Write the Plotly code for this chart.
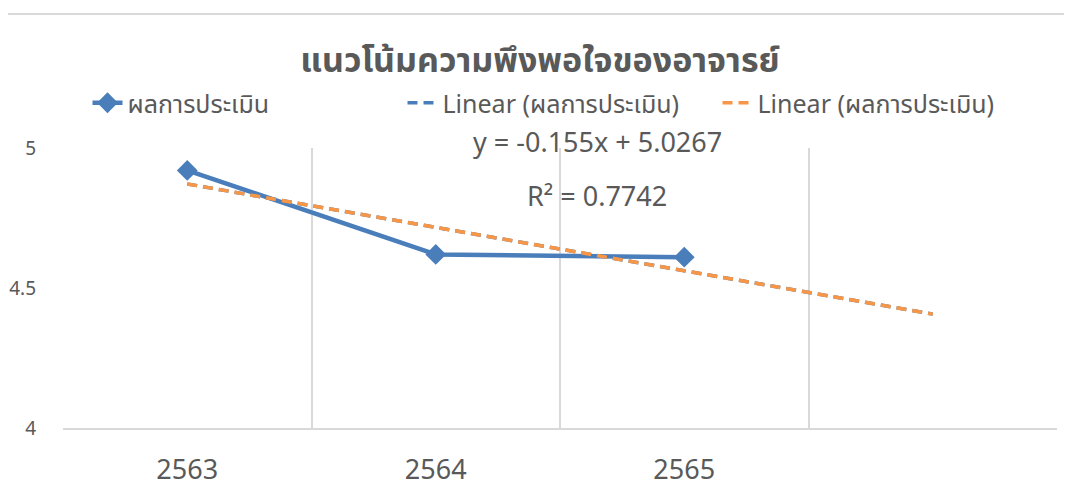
import plotly.graph_objects as go

years = ["2563", "2564", "2565"]
x_pos = [1, 2, 3]
scores = [4.92, 4.62, 4.61]
trend_slope = -0.155
trend_intercept = 5.0267
trend_x = [1, 2, 3, 4]
trend_y = [trend_slope * x + trend_intercept for x in trend_x]

FONT = "Noto Sans Thai, Leelawadee UI, Tahoma, Noto Sans, sans-serif"
GRAY = "#595959"
BLUE = "#4a7ebb"
ORANGE = "#f79646"

# the page has an 8px body margin, so the figure is drawn 8px smaller
OFF = 8
W, H = 1072 - OFF, 489 - OFF
PLOT_LEFT, PLOT_RIGHT = 63 - OFF, 1057 - OFF
PLOT_TOP, PLOT_BOTTOM = 148 - OFF, 428 - OFF
PH = PLOT_BOTTOM - PLOT_TOP
PW = PLOT_RIGHT - PLOT_LEFT


def py(screen_y):
    return (PLOT_BOTTOM - (screen_y - OFF)) / PH


fig = go.Figure()
fig.add_trace(go.Scatter(
    x=x_pos, y=scores, mode="lines+markers", name="ผลการประเมิน",
    line=dict(color=BLUE, width=4.5),
    marker=dict(symbol="diamond", size=16, color=BLUE),
))
fig.add_trace(go.Scatter(
    x=trend_x, y=trend_y, mode="lines", name="Linear (ผลการประเมิน)",
    line=dict(color=BLUE, width=3.5, dash="10px,6px"),
))
fig.add_trace(go.Scatter(
    x=trend_x, y=trend_y, mode="lines", name="Linear (ผลการประเมิน)",
    line=dict(color=ORANGE, width=3.5, dash="10px,6px"),
))

fig.update_layout(
    width=W, height=H,
    margin=dict(l=PLOT_LEFT, r=W - PLOT_RIGHT, t=PLOT_TOP, b=H - PLOT_BOTTOM,
                autoexpand=False),
    paper_bgcolor="white", plot_bgcolor="white",
    font=dict(family=FONT, color=GRAY),
    title=dict(text="<b>แนวโน้มความพึงพอใจของอาจารย์</b>", x=0.5, xanchor="center",
               y=1 - 52 / H, yanchor="middle", font=dict(size=34, color=GRAY)),
    legend=dict(orientation="h", x=0.5, xanchor="center", y=py(103),
                yanchor="middle", font=dict(size=25, color=GRAY),
                entrywidth=270, entrywidthmode="pixels",
                bgcolor="rgba(0,0,0,0)"),
    showlegend=True,
)
fig.update_xaxes(
    range=[0.5, 4.5], tickvals=x_pos, ticktext=years, automargin=False,
    showgrid=False, zeroline=False,
    showline=True, linecolor="#d9d9d9", linewidth=1.5,
    tickfont=dict(size=27, color=GRAY), ticklabelstandoff=17,
    minor=dict(tickvals=[0.5, 1.5, 2.5, 3.5, 4.5], showgrid=True,
               gridcolor="#d9d9d9", gridwidth=1.5, ticks=""),
)
fig.update_yaxes(
    range=[4, 5], tickvals=[4, 4.5, 5], ticktext=["4", "4.5", "5"], automargin=False,
    showgrid=False, zeroline=False, showline=False,
    tickfont=dict(size=19, color=GRAY), ticklabelstandoff=26,
)
fig.add_annotation(text="y = -0.155x + 5.0267", x=2.65, y=py(143),
                   xref="x", yref="paper", yanchor="middle", showarrow=False,
                   font=dict(size=27, color=GRAY))
fig.add_annotation(text="R² = 0.7742", x=2.65, y=py(197),
                   xref="x", yref="paper", yanchor="middle", showarrow=False,
                   font=dict(size=27, color=GRAY))
fig.add_shape(type="line", xref="paper", yref="paper",
              x0=-PLOT_LEFT / PW, x1=(W - PLOT_LEFT) / PW,
              y0=py(14), y1=py(14),
              line=dict(color="#d9d9d9", width=2))

fig.write_html("out.html")
